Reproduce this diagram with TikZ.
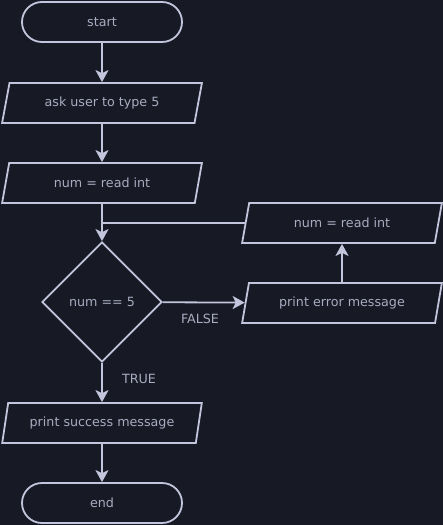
\documentclass[tikz,border=0pt]{standalone}
\usepackage{fontspec}
\setmainfont{DejaVu Sans}
\usetikzlibrary{shapes.geometric, arrows.meta}
\definecolor{bgcol}{HTML}{171925}
\definecolor{linecol}{HTML}{C3C5DC}
\definecolor{textcol}{HTML}{A9ABC0}
\begin{document}
\begin{tikzpicture}[x=1pt, y=-1pt,
  every node/.style={text=textcol, font=\fontsize{12.7}{15}\selectfont},
  terminal/.style={draw=linecol, line width=1.8pt, rounded corners=20pt, minimum width=160pt, minimum height=40pt, inner sep=0pt},
  io/.style={draw=linecol, line width=1.8pt, trapezium, trapezium left angle=69.44, trapezium right angle=110.56, trapezium stretches, minimum width=200pt, minimum height=40pt, inner sep=0pt},
  decision/.style={draw=linecol, line width=1.8pt, diamond, aspect=1, minimum width=120pt, minimum height=120pt, inner sep=0pt},
  link/.style={draw=linecol, line width=1.8pt, -{Stealth[length=12pt, width=13pt, inset=3pt]}},
  lbl/.style={fill=none}]
 \fill[bgcol] (0,0) rectangle (443,525);
%
 \node[terminal] (start) at (102,22) {start};
 \node[io] (ask) at (102,103) {ask user to type 5};
 \node[io] (read) at (102,183) {num = read int};
 \node[decision] (check) at (102,302) {num == 5};
 \node[io] (success) at (102,423) {print success message};
 \node[terminal] (end) at (102,503) {end};
%
 \node[io] (error) at (342,303) {print error message};
 \node[io] (again) at (342,223) {num = read int};
%
 \draw[link] (start) -- (ask);
 \draw[link] (ask) -- (read);
 \draw[link] (read) -- (check);
 \draw[link, -] (again.west) -- (read.south |- again.west);
 \draw[link] (check) -- (error);
 \draw[link] (error) -- (again);
 \draw[link] (check) -- (success);
 \draw[link] (success) -- (end);
%
 \node[lbl] (false) at (200,319) {FALSE};
 \node[lbl] (true) at (139,379) {TRUE};
\end{tikzpicture}
\end{document}
